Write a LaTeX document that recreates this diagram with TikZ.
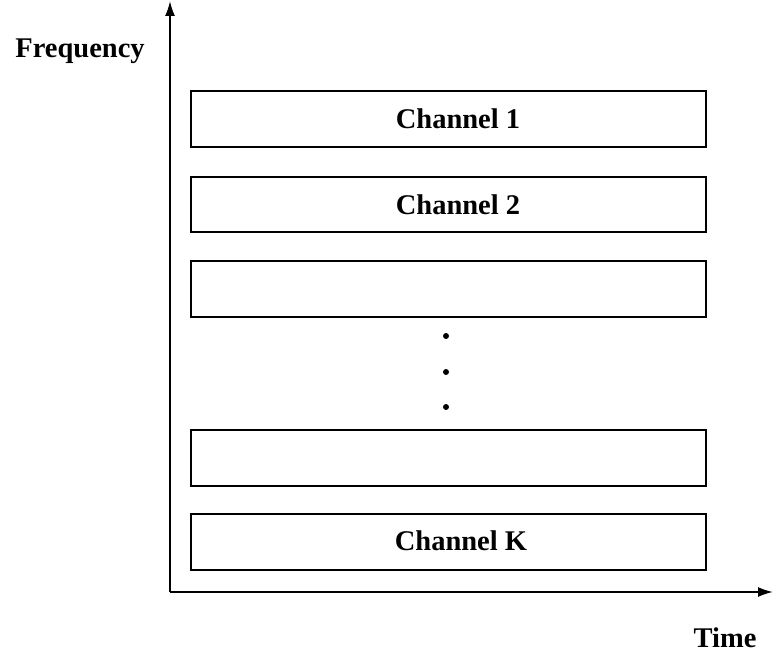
\documentclass[tikz,border=0pt]{standalone}
\usepackage{fontspec}
\setmainfont{Liberation Serif}
\usetikzlibrary{arrows.meta}
\begin{document}
\begin{tikzpicture}[x=1pt,y=-1pt,
  chbox/.style={draw,line width=1.8pt},
  lbl/.style={font=\bfseries\fontsize{28.5}{32}\selectfont},
  axis/.style={line width=1.8pt,-{Latex[length=15pt,width=10pt]}}]
\useasboundingbox (0,0) rectangle (773,655);
\coordinate (o) at (170,592);
\coordinate (ytop) at (170,1);
\coordinate (xend) at (773,592);
\draw[axis] (o) -- (ytop);
\draw[axis] (o) -- (xend);
\node[lbl] (freq) at (80,51) {Frequency};
\node[lbl] (time) at (725,638) {Time};
\draw[chbox] (191,91) rectangle (706,147);
\draw[chbox] (191,177) rectangle (706,232);
\draw[chbox] (191,261) rectangle (706,317);
\draw[chbox] (191,430) rectangle (706,486);
\draw[chbox] (191,514) rectangle (706,570);
\node[lbl] (c1) at (458,119) {Channel 1};
\node[lbl] (c2) at (458,205) {Channel 2};
\node[lbl] (ck) at (461,541) {Channel K};
\foreach \yy in {336,372,407} \fill (446,\yy) circle (3);
\end{tikzpicture}
\end{document}
